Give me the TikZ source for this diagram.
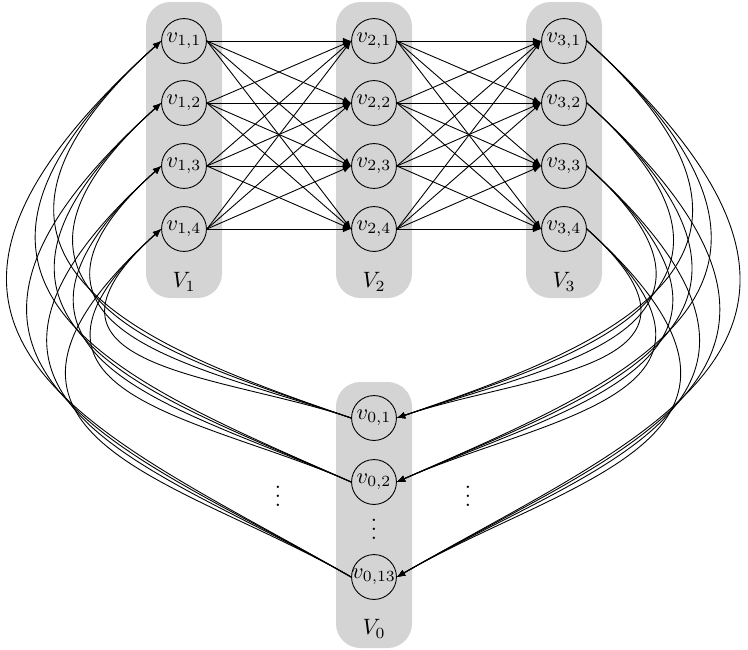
\documentclass[tikz,border=0pt]{standalone}
\usetikzlibrary{arrows.meta}
\begin{document}
\begin{tikzpicture}[x=0.45pt,y=0.45pt,
  vtx/.style={circle,draw,inner sep=0pt,minimum size=20.2pt},
  grp/.style={fill=black!17,rounded corners=11pt},
  arr/.style={-{Latex[length=3.7pt,width=3pt]}},
  lbl/.style={inner sep=0pt}]
\useasboundingbox (0,0) rectangle (748,-649);
% group backgrounds
\fill[grp] (146,-2) rectangle (222,-298);
\fill[grp] (336,-2) rectangle (412,-298);
\fill[grp] (526,-2) rectangle (602,-298);
\fill[grp] (336,-382) rectangle (412,-648);
% vertices
\foreach \c/\x in {1/184,2/374,3/564}{
  \foreach \r/\y in {1/41,2/103,3/166,4/229}{
    \node[vtx] (v\c\r) at (\x,-\y) {$v_{\c,\r}$};
  }
}
\node[vtx] (v0a) at (374,-418) {$v_{0,1}$};
\node[vtx] (v0b) at (374,-482) {$v_{0,2}$};
\node[vtx,inner sep=-1.6pt] (v0c) at (374,-577) {$v_{0,13}$};
% labels
\node[lbl] (L1) at (184,-282) {$V_1$};
\node[lbl] (L2) at (374,-282) {$V_2$};
\node[lbl] (L3) at (564,-282) {$V_3$};
\node[lbl] (L0) at (374,-629) {$V_0$};
\node[lbl] (dm) at (374,-523) {$\vdots$};
\node[lbl] (dl) at (278,-490) {$\vdots$};
\node[lbl] (dr) at (468,-490) {$\vdots$};
% straight edges
\foreach \i in {1,...,4}{
  \foreach \k in {1,...,4}{
    \draw[arr] (v1\i.east) -- (v2\k.west);
    \draw[arr] (v2\i.east) -- (v3\k.west);
  }
}
% curved edges
\foreach \j/\o in {v0a/161,v0b/156,v0c/150}{
  \foreach \i in {1,...,4}{
    \draw[arr] (\j.west) to[out=\o,in=222,out looseness=1.3,in looseness=2.0] (v1\i.west);
    \draw[arr] (v3\i.east) to[out=-42,in=180-\o,out looseness=2.0,in looseness=1.3] (\j.east);
  }
}
\end{tikzpicture}
\end{document}
